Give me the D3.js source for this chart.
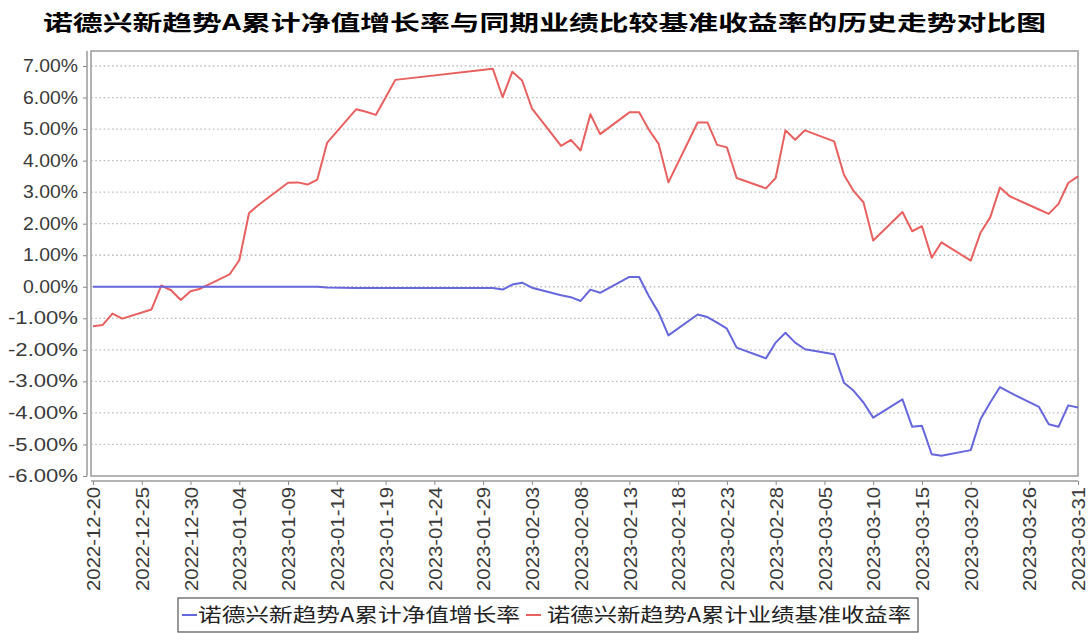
<!DOCTYPE html>
<html><head><meta charset="utf-8">
<script src="https://cdn.jsdelivr.net/npm/d3@7"></script>
<style>body{margin:0;background:#fff;} svg{display:block;}</style>
</head><body>
<svg id="chart" width="1089" height="633"></svg>
<script>
const chartTitle = "诺德兴新趋势A累计净值增长率与同期业绩比较基准收益率的历史走势对比图";
const seriesNames = ["诺德兴新趋势A累计净值增长率", "诺德兴新趋势A累计业绩基准收益率"];
const dates = [
  "2022-12-20","2022-12-21","2022-12-22","2022-12-23","2022-12-26","2022-12-27","2022-12-28","2022-12-29","2022-12-30","2022-12-31",
  "2023-01-03","2023-01-04","2023-01-05","2023-01-06","2023-01-09","2023-01-10","2023-01-11","2023-01-12","2023-01-13","2023-01-16",
  "2023-01-17","2023-01-18","2023-01-19","2023-01-20","2023-01-30","2023-01-31",
  "2023-02-01","2023-02-02","2023-02-03","2023-02-06","2023-02-07","2023-02-08","2023-02-09","2023-02-10","2023-02-13","2023-02-14",
  "2023-02-15","2023-02-16","2023-02-17","2023-02-20","2023-02-21","2023-02-22","2023-02-23","2023-02-24","2023-02-27","2023-02-28",
  "2023-03-01","2023-03-02","2023-03-03","2023-03-06","2023-03-07","2023-03-08","2023-03-09","2023-03-10","2023-03-13","2023-03-14",
  "2023-03-15","2023-03-16","2023-03-17","2023-03-20","2023-03-21","2023-03-22","2023-03-23","2023-03-24","2023-03-27","2023-03-28",
  "2023-03-29","2023-03-30","2023-03-31"
];
// 累计净值增长率 (%)
const navGrowth = [
  0,0,0,0,0,0,0,0,0,0,
  0,0,0,0,0,0,0,0,-0.02,-0.04,
  -0.04,-0.04,-0.04,-0.04,-0.04,-0.09,
  0.07,0.13,-0.03,-0.27,-0.33,-0.45,-0.09,-0.19,0.31,0.31,
  -0.30,-0.82,-1.54,-0.88,-0.96,-1.14,-1.33,-1.93,-2.27,-1.77,
  -1.46,-1.77,-1.98,-2.14,-3.04,-3.30,-3.67,-4.15,-3.57,-4.44,
  -4.41,-5.31,-5.36,-5.18,-4.20,-3.67,-3.18,-3.35,-3.81,-4.36,
  -4.44,-3.76,-3.83
];
// 业绩比较基准收益率 (%)
const benchmark = [
  -1.25,-1.21,-0.85,-1.01,-0.72,0.04,-0.11,-0.42,-0.14,-0.06,
  0.39,0.84,2.34,2.60,3.30,3.31,3.24,3.40,4.56,5.63,
  5.55,5.45,6.00,6.56,6.91,6.01,
  6.82,6.54,5.66,4.47,4.66,4.32,5.47,4.84,5.53,5.53,
  4.98,4.53,3.31,5.21,5.21,4.50,4.42,3.45,3.12,3.45,
  4.96,4.66,4.96,4.61,3.55,3.03,2.68,1.47,2.37,1.76,
  1.92,0.92,1.41,0.83,1.71,2.20,3.15,2.87,2.45,2.31,
  2.63,3.29,3.50
];
const yTickValues = [-6,-5,-4,-3,-2,-1,0,1,2,3,4,5,6,7];
const xTickLabels = ["2022-12-20","2022-12-25","2022-12-30","2023-01-04","2023-01-09","2023-01-14","2023-01-19","2023-01-24",
  "2023-01-29","2023-02-03","2023-02-08","2023-02-13","2023-02-18","2023-02-23","2023-02-28","2023-03-05","2023-03-10",
  "2023-03-15","2023-03-20","2023-03-26","2023-03-31"];

const parse = d3.timeParse("%Y-%m-%d");
const fmt = d3.timeFormat("%Y-%m-%d");
const svg = d3.select("#chart");

const plot = {left: 91, right: 1078, top: 51, bottom: 476};
const x = d3.scaleTime().domain([parse("2022-12-20"), parse("2023-03-31")]).range([93, 1078]);
const y = d3.scaleLinear().domain([-6, 7]).range([476, 66]);

svg.append("rect").attr("width",1089).attr("height",633).attr("fill","#fff");

// title
svg.append("text").attr("x", 544.5).attr("y", 30).attr("text-anchor","middle")
  .attr("font-family","'Noto Sans CJK SC', sans-serif").attr("font-weight","bold").attr("font-size",21)
  .attr("fill","#000").attr("textLength",1003).attr("lengthAdjust","spacingAndGlyphs").text(chartTitle);

// gridlines
svg.append("g").selectAll("line").data(yTickValues.filter(v => v > -6)).join("line")
  .attr("x1", plot.left).attr("x2", plot.right).attr("y1", d => y(d)).attr("y2", d => y(d))
  .attr("stroke","#bdbdbd").attr("stroke-width",1.3).attr("stroke-dasharray","1.6,2.6");

// plot outline
svg.append("rect").attr("x", plot.left).attr("y", plot.top).attr("width", plot.right-plot.left).attr("height", plot.bottom-plot.top)
  .attr("fill","none").attr("stroke","#9a9a9a").attr("stroke-width",1.5);

// y axis
const yAxis = svg.append("g").attr("transform","translate(87,0)")
  .call(d3.axisLeft(y).tickValues(yTickValues).tickSize(4).tickSizeOuter(0).tickFormat(d => d.toFixed(2) + "%"));
yAxis.select(".domain").remove();
yAxis.append("line").attr("x1",0).attr("x2",0).attr("y1",plot.top).attr("y2",plot.bottom).attr("stroke","#9a9a9a").attr("stroke-width",1.5);
yAxis.selectAll(".tick line").attr("stroke","#888");
yAxis.selectAll(".tick text").attr("x",-9).attr("fill","#3a3a3a")
  .attr("font-family","'Liberation Sans', Arial, sans-serif").attr("font-size",17.5)
  .attr("textLength", d => d < 0 ? 70 : 55).attr("lengthAdjust","spacingAndGlyphs");

// x axis
const xAxis = svg.append("g").attr("transform","translate(0,481)")
  .call(d3.axisBottom(x).tickValues(xTickLabels.map(parse)).tickSize(4).tickSizeOuter(0).tickFormat(fmt));
xAxis.select(".domain").remove();
xAxis.append("line").attr("x1",plot.left).attr("x2",plot.right).attr("y1",0).attr("y2",0).attr("stroke","#9a9a9a").attr("stroke-width",1.5);
xAxis.selectAll(".tick line").attr("stroke","#888");
xAxis.selectAll(".tick text").attr("transform","rotate(-90)").attr("text-anchor","end")
  .attr("x",-6).attr("y",0).attr("dy","0.37em").attr("fill","#3a3a3a")
  .attr("font-family","'Liberation Sans', Arial, sans-serif").attr("font-size",18)
  .attr("textLength",104).attr("lengthAdjust","spacingAndGlyphs");

// lines
const parsed = dates.map(parse);
const line = d3.line().x(d => x(d[0])).y(d => y(d[1]));
svg.append("path").datum(parsed.map((d,i) => [d, benchmark[i]]))
  .attr("fill","none").attr("stroke","#e8605f").attr("stroke-width",2).attr("stroke-linejoin","round").attr("d", line);
svg.append("path").datum(parsed.map((d,i) => [d, navGrowth[i]]))
  .attr("fill","none").attr("stroke","#6666dd").attr("stroke-width",2).attr("stroke-linejoin","round").attr("d", line);

// legend
const lg = svg.append("g");
lg.append("rect").attr("x",178).attr("y",598).attr("width",740).attr("height",34).attr("fill","#fff").attr("stroke","#555").attr("stroke-width",1.2);
const legendColors = ["#6666dd", "#e8605f"];
const legendPos = [{lx:182, tx:198, tl:322}, {lx:526, tx:547, tl:364}];
seriesNames.forEach((name, i) => {
  const p = legendPos[i];
  lg.append("line").attr("x1",p.lx).attr("x2",p.lx+15).attr("y1",615).attr("y2",615).attr("stroke",legendColors[i]).attr("stroke-width",2);
  lg.append("text").attr("x",p.tx).attr("y",622).attr("font-family","'Noto Sans CJK SC', sans-serif").attr("font-size",19.5)
    .attr("fill","#222").attr("textLength",p.tl).attr("lengthAdjust","spacingAndGlyphs").text(name);
});
</script>
</body></html>
